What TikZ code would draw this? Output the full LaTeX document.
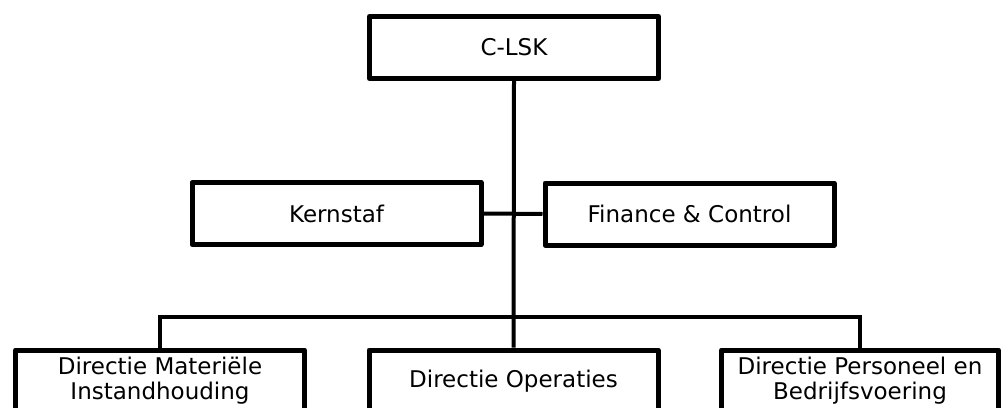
\documentclass[tikz,border=0pt]{standalone}
\usepackage{fontspec}
\setmainfont{DejaVu Sans}
\begin{document}
\begin{tikzpicture}[x=1pt,y=-1pt,
  unit/.style={draw=black,line width=5pt,line join=round,fill=white,
    minimum width=289pt,minimum height=62pt,inner sep=0pt,align=center,
    font=\fontsize{23}{25}\selectfont},
  link/.style={draw=black,line width=4pt}]

% The page
\clip (0,0) rectangle (1004,407);

% The units
\node[unit] (clsk) at (514,47.5) {C-LSK};
\node[unit] (kern) at (336.5,213.5) {Kernstaf};
\node[unit] (fin) at (689.5,214) {Finance \& Control};
\node[unit] (mat) at (160,381) {Directie Materiële\\Instandhouding};
\node[unit] (oper) at (513.5,381) {Directie Operaties};
\node[unit,minimum width=277pt] (pers) at (860,381) {Directie Personeel en\\Bedrijfsvoering};

% The line of command
\coordinate (bus) at (513.5,317);
\draw[link] (clsk.south) -- (oper.north);
\draw[link] (kern.east) -- (fin.west);
\draw[link] (mat.north) |- (bus) -| (pers.north);

\end{tikzpicture}
\end{document}
